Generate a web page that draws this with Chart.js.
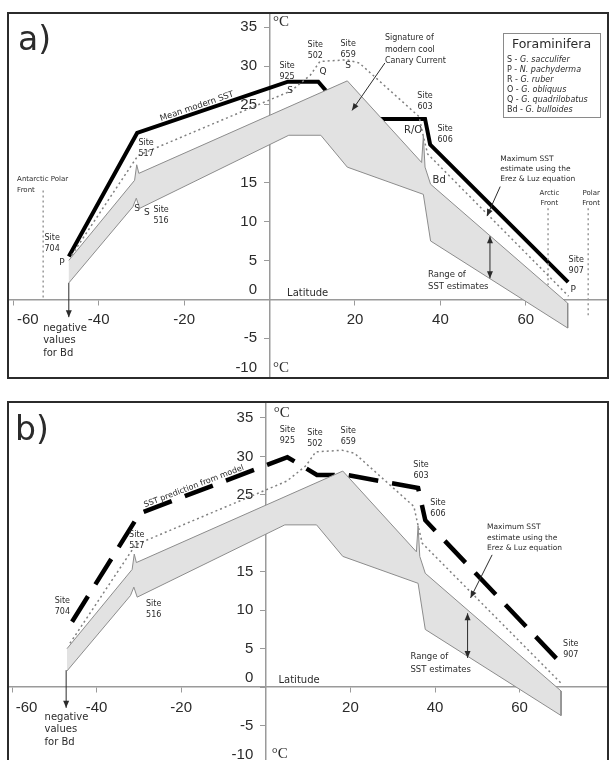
<!DOCTYPE html>
<html>
<head>
<meta charset="utf-8">
<title>SST estimates vs latitude</title>
<script src="https://cdn.jsdelivr.net/npm/chart.js@4.4.0/dist/chart.umd.min.js"></script>
<style>
  html, body { margin: 0; padding: 0; background: #fff; overflow: hidden; }
  .panel { position: absolute; left: 7px; border: 2px solid #2b2b2b; }
  #panelA { top: 12px; }
  #panelB { top: 401px; }
  canvas { display: block; }
</style>
</head>
<body>
<div class="panel" id="panelA"><canvas id="chartA" width="598" height="363"></canvas></div>
<div class="panel" id="panelB"><canvas id="chartB" width="598" height="361"></canvas></div>
<script>
// latitude in degrees (negative = south), temperature in °C

// mean modern SST (panel a, thick solid line)
const meanLat = [-47, -31, 4.3, 11.4, 18.9, 36.4, 37.6, 69.9];
const meanSST = [5.5, 21.4, 28.0, 28.0, 23.2, 23.2, 19.9, 2.2];

// SST prediction from model (panel b, thick dashed line)
const modelLat = [-45.8, -29.8, 5.1, 12.1, 19.1, 36.0, 37.7, 69.1];
const modelSST = [8.5, 22.6, 29.9, 27.6, 27.6, 25.9, 21.7, 3.5];

// maximum SST estimate using the Erez & Luz equation (dotted)
const maxLat = [-46.3, -30.8, 5.0, 9.5, 11.8, 18.1, 21.0, 35.0, 36.0, 37.0, 70.0];
const maxSST = [5.7, 18.5, 26.8, 28.8, 30.6, 30.8, 30.4, 23.5, 21.0, 18.7, 0.4];

// range of SST estimates (grey band): upper and lower edges
const bandTopLat = [-47, -31.6, -31.1, -30.6, 18.2, 35.6, 36.0, 36.4, 37.7, 69.8];
const bandTopSST = [5.0, 15.3, 17.3, 16.2, 28.1, 17.6, 21.0, 17.0, 14.8, -0.5];
const bandLowLat = [-47, -32.0, -31.2, -30.4, 4.5, 12.0, 18.2, 36.0, 37.7, 69.8];
const bandLowSST = [2.1, 11.9, 13.0, 11.7, 21.1, 21.1, 17.0, 13.5, 7.5, -3.7];

// oceanic fronts (panel a, vertical dotted lines)
const frontLat = [-53, 65.2, 74.6];
const frontTop = [14, 11.7, 11.7];
const frontBottom = [0, 0, -2.3];

// foraminifera legend
const foramCodes = ['S', 'P', 'R', 'O', 'Q', 'Bd'];
const foramSpecies = ['G. sacculifer', 'N. pachyderma', 'G. ruber', 'G. obliquus', 'G. quadrilobatus', 'G. bulloides'];

// axis ticks
const xTicks = [-60, -40, -20, 20, 40, 60];
const yTicks = [-10, -5, 0, 5, 10, 15, 25, 30, 35];

const ink = '#2b2b2b';
const axisGray = '#9a9a9a';

const pts = (xs, ys) => xs.map((x, i) => ({ x: x, y: ys[i] }));
const bandPoints = pts(bandTopLat, bandTopSST).concat(pts(bandLowLat, bandLowSST).reverse());

function baseDatasets() {
  return [
    { data: bandPoints, fill: 'shape', backgroundColor: '#e2e2e2', borderColor: '#8c8c8c', borderWidth: 1 },
    { data: pts(maxLat, maxSST), fill: false, borderColor: '#808080', borderWidth: 1.5, borderDash: [2, 3] }
  ];
}

function arrowHead(ctx, x1, y1, x2, y2) {
  const a = Math.atan2(y2 - y1, x2 - x1);
  const len = 7, half = 3;
  ctx.beginPath();
  ctx.moveTo(x2, y2);
  ctx.lineTo(x2 - len * Math.cos(a) + half * Math.sin(a), y2 - len * Math.sin(a) - half * Math.cos(a));
  ctx.lineTo(x2 - len * Math.cos(a) - half * Math.sin(a), y2 - len * Math.sin(a) + half * Math.cos(a));
  ctx.closePath();
  ctx.fill();
}

// texts, arrows, legend box and panel letter, placed through the chart scales
function notesPlugin(cfg) {
  return {
    id: 'notes',
    afterDraw(chart) {
      const ctx = chart.ctx;
      const area = chart.chartArea;
      const X = v => chart.scales.x.getPixelForValue(v);
      const Y = v => chart.scales.y.getPixelForValue(v);
      ctx.save();
      ctx.fillStyle = ink;
      ctx.strokeStyle = ink;

      (cfg.arrows || []).forEach(a => {
        const x1 = X(a.from[0]), y1 = Y(a.from[1]), x2 = X(a.to[0]), y2 = Y(a.to[1]);
        ctx.lineWidth = 1;
        ctx.beginPath();
        ctx.moveTo(x1, y1);
        ctx.lineTo(x2, y2);
        ctx.stroke();
        arrowHead(ctx, x1, y1, x2, y2);
        if (a.both) arrowHead(ctx, x2, y2, x1, y1);
      });

      (cfg.texts || []).forEach(t => {
        const size = t.size || 8;
        const lh = t.lh || 11;
        ctx.font = size + 'px ' + (t.family || '"DejaVu Sans"');
        ctx.textAlign = t.align || 'center';
        ctx.textBaseline = 'middle';
        t.lines.forEach((s, i) => ctx.fillText(s, X(t.at[0]), Y(t.at[1]) + i * lh));
      });

      (cfg.rotated || []).forEach(r => {
        const p1 = r.seg[0], p2 = r.seg[1];
        const ang = Math.atan2(Y(p2[1]) - Y(p1[1]), X(p2[0]) - X(p1[0]));
        ctx.save();
        ctx.translate(X(r.at[0]), Y(r.at[1]));
        ctx.rotate(ang);
        ctx.font = r.size + 'px "DejaVu Sans"';
        ctx.textAlign = 'center';
        ctx.textBaseline = 'middle';
        ctx.fillText(r.text, 0, 0);
        ctx.restore();
      });

      if (cfg.legend) {
        const L = cfg.legend;
        const x0 = area.left + L.dx, y0 = area.top + L.dy;
        ctx.fillStyle = '#fff';
        ctx.fillRect(x0, y0, L.w, L.h);
        ctx.strokeStyle = '#8a8a8a';
        ctx.lineWidth = 1;
        ctx.strokeRect(x0 + 0.5, y0 + 0.5, L.w, L.h);
        ctx.fillStyle = ink;
        ctx.textBaseline = 'middle';
        ctx.textAlign = 'center';
        ctx.font = '12.5px "DejaVu Sans"';
        ctx.fillText('Foraminifera', x0 + L.w / 2, y0 + 12);
        ctx.textAlign = 'left';
        foramCodes.forEach((c, i) => {
          const y = y0 + 27 + i * 10;
          const pre = c + ' - ';
          ctx.font = '8px "DejaVu Sans"';
          ctx.fillText(pre, x0 + 4, y);
          const w = ctx.measureText(pre).width;
          ctx.font = 'italic 8px "DejaVu Sans"';
          ctx.fillText(foramSpecies[i], x0 + 4 + w, y);
        });
      }

      if (cfg.letter) {
        ctx.fillStyle = ink;
        ctx.font = '33px "DejaVu Sans"';
        ctx.textAlign = 'left';
        ctx.textBaseline = 'alphabetic';
        ctx.fillText(cfg.letter.text, area.left + cfg.letter.dx, area.top + cfg.letter.dy);
      }
      ctx.restore();
    }
  };
}

// y labels sit right-aligned on the axis line; trailing spaces keep them off it
const yLabel = v => {
  const s = String(v) + '   ';
  return v === -10 || v === 0 ? [s, ''] : s;
};

function makeChart(id, cfg) {
  const zeroPad = s => { s.paddingLeft = 0; s.paddingRight = 0; s.paddingTop = 0; s.paddingBottom = 0; };
  return new Chart(document.getElementById(id), {
    type: 'line',
    data: { datasets: cfg.datasets },
    options: {
      responsive: false,
      animation: false,
      layout: { padding: 0 },
      elements: { point: { radius: 0 }, line: { tension: 0 } },
      plugins: { legend: { display: false }, tooltip: { enabled: false } },
      scales: {
        x: {
          type: 'linear',
          min: cfg.xMin,
          max: cfg.xMax,
          position: { y: 0 },
          afterBuildTicks: s => { s.ticks = xTicks.map(v => ({ value: v })); },
          afterFit: zeroPad,
          grid: { drawOnChartArea: false, tickLength: 5, color: axisGray },
          border: { color: axisGray, width: 1.5 },
          ticks: {
            autoSkip: false, maxRotation: 0, padding: 7, color: ink,
            font: { family: 'Liberation Sans', size: 15 },
            callback: v => (v === -60 ? '       -60' : String(v))
          }
        },
        y: {
          type: 'linear',
          min: cfg.yMin,
          max: cfg.yMax,
          position: { x: 0 },
          afterBuildTicks: s => { s.ticks = yTicks.map(v => ({ value: v })); },
          afterFit: zeroPad,
          grid: { drawOnChartArea: false, tickLength: 5, color: axisGray },
          border: { color: axisGray, width: 1.5 },
          ticks: {
            autoSkip: false, padding: 6, color: ink,
            font: { family: 'Liberation Sans', size: 15, lineHeight: 1.2 },
            callback: yLabel
          }
        }
      }
    },
    plugins: [notesPlugin(cfg.notes)]
  });
}

// panel a
const datasetsA = baseDatasets();
frontLat.forEach((lat, i) => {
  datasetsA.push({ data: pts([lat, lat], [frontTop[i], frontBottom[i]]), fill: false, borderColor: '#9a9a9a', borderWidth: 1.5, borderDash: [2, 3] });
});
datasetsA.push({ data: pts(meanLat, meanSST), fill: false, borderColor: '#000', borderWidth: 4, borderJoinStyle: 'miter' });

makeChart('chartA', {
  xMin: -61, xMax: 79, yMin: -10, yMax: 36.7,
  datasets: datasetsA,
  notes: {
    letter: { text: 'a)', dx: 9, dy: 36 },
    legend: { dx: 494, dy: 19, w: 97, h: 84 },
    rotated: [
      { text: 'Mean modern SST', at: [-17.0, 24.8], size: 8.5, seg: [[meanLat[1], meanSST[1]], [meanLat[2], meanSST[2]]] }
    ],
    arrows: [
      { from: [-47, 2.1], to: [-47, -2.3] },
      { from: [27.0, 30.4], to: [19.3, 24.3] },
      { from: [54.0, 14.5], to: [50.9, 10.7] },
      { from: [51.6, 8.1], to: [51.6, 2.7], both: true }
    ],
    texts: [
      { at: [-50.9, 7.85], lines: ['Site', '704'] },
      { at: [-48.6, 4.76], lines: ['P'], size: 9 },
      { at: [-28.9, 20.1], lines: ['Site', '517'] },
      { at: [-31.0, 11.6], lines: ['S'], size: 9 },
      { at: [-28.7, 11.1], lines: ['S'], size: 9 },
      { at: [-25.4, 11.45], lines: ['Site', '516'] },
      { at: [4.1, 30.0], lines: ['Site', '925'] },
      { at: [4.8, 26.8], lines: ['S'], size: 9 },
      { at: [10.7, 32.7], lines: ['Site', '502'] },
      { at: [12.5, 29.3], lines: ['Q'], size: 9 },
      { at: [18.4, 32.9], lines: ['Site', '659'] },
      { at: [18.4, 30.1], lines: ['S'], size: 9 },
      { at: [36.4, 26.1], lines: ['Site', '603'] },
      { at: [33.6, 21.75], lines: ['R/O'], size: 10 },
      { at: [41.1, 21.9], lines: ['Site', '606'] },
      { at: [39.7, 15.3], lines: ['Bd'], size: 10 },
      { at: [71.8, 5.0], lines: ['Site', '907'] },
      { at: [71.1, 1.2], lines: ['P'], size: 9 },
      { at: [27.0, 33.6], lines: ['Signature of', 'modern cool', 'Canary Current'], align: 'left', lh: 11.5 },
      { at: [54.0, 18.1], lines: ['Maximum SST', 'estimate using the', 'Erez & Luz equation'], align: 'left', size: 7.5, lh: 10 },
      { at: [37.1, 3.1], lines: ['Range of', 'SST estimates'], align: 'left', size: 8.5, lh: 12 },
      { at: [-59.1, 15.4], lines: ['Antarctic Polar', 'Front'], align: 'left', size: 7, lh: 10.5 },
      { at: [65.5, 13.6], lines: ['Arctic', 'Front'], size: 7, lh: 10 },
      { at: [75.3, 13.6], lines: ['Polar', 'Front'], size: 7, lh: 10 },
      { at: [4.1, 0.8], lines: ['Latitude'], align: 'left', size: 10 },
      { at: [-53.0, -3.7], lines: ['negative', 'values', 'for Bd'], align: 'left', size: 10, lh: 12.5 },
      { at: [0.8, 35.6], lines: ['°C'], align: 'left', size: 15, family: '"Liberation Serif"' },
      { at: [0.8, -8.9], lines: ['°C'], align: 'left', size: 15, family: '"Liberation Serif"' }
    ]
  }
});

// panel b
const datasetsB = baseDatasets();
datasetsB.push({ data: pts(modelLat, modelSST), fill: false, borderColor: '#000', borderWidth: 4.5, borderDash: [30, 14], borderJoinStyle: 'miter' });

makeChart('chartB', {
  xMin: -60.71, xMax: 80.66, yMin: -10, yMax: 36.95,
  datasets: datasetsB,
  notes: {
    letter: { text: 'b)', dx: 6, dy: 37 },
    rotated: [
      { text: 'SST prediction from model', at: [-17.0, 26.1], size: 8, seg: [[modelLat[1], modelSST[1]], [modelLat[2], modelSST[2]]] }
    ],
    arrows: [
      { from: [-47.2, 2.2], to: [-47.2, -2.7] },
      { from: [53.5, 17.2], to: [48.4, 11.6] },
      { from: [47.7, 9.6], to: [47.7, 3.8], both: true }
    ],
    texts: [
      { at: [-48.1, 11.2], lines: ['Site', '704'] },
      { at: [-30.5, 19.8], lines: ['Site', '517'] },
      { at: [-26.5, 10.8], lines: ['Site', '516'] },
      { at: [5.1, 33.4], lines: ['Site', '925'] },
      { at: [11.6, 33.0], lines: ['Site', '502'] },
      { at: [19.5, 33.3], lines: ['Site', '659'] },
      { at: [36.7, 28.9], lines: ['Site', '603'] },
      { at: [40.7, 23.9], lines: ['Site', '606'] },
      { at: [72.1, 5.6], lines: ['Site', '907'] },
      { at: [52.3, 20.8], lines: ['Maximum SST', 'estimate using the', 'Erez & Luz equation'], align: 'left', size: 7.5, lh: 10.5 },
      { at: [34.2, 3.9], lines: ['Range of', 'SST estimates'], align: 'left', size: 8.5, lh: 13 },
      { at: [3.0, 0.9], lines: ['Latitude'], align: 'left', size: 10 },
      { at: [-52.3, -3.9], lines: ['negative', 'values', 'for Bd'], align: 'left', size: 10, lh: 12.8 },
      { at: [1.9, 35.6], lines: ['°C'], align: 'left', size: 15, family: '"Liberation Serif"' },
      { at: [1.4, -8.7], lines: ['°C'], align: 'left', size: 15, family: '"Liberation Serif"' }
    ]
  }
});
</script>
</body>
</html>
